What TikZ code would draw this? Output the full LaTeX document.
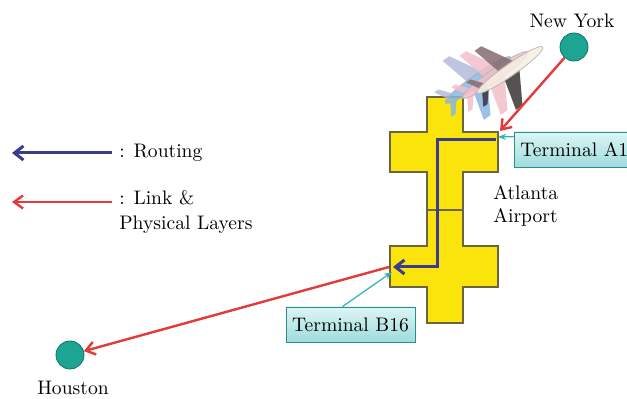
\documentclass[tikz,border=0pt]{standalone}
\usetikzlibrary{arrows.meta}
\definecolor{hubyellow}{HTML}{FBE40C}
\definecolor{hubedge}{HTML}{6B6440}
\definecolor{routeblue}{HTML}{3C3C8E}
\definecolor{linkred}{HTML}{E53A3A}
\definecolor{cityteal}{HTML}{1BA592}
\definecolor{gatecyan}{HTML}{2FB3B3}
\definecolor{gatetop}{HTML}{DDF5F5}
\definecolor{gatebot}{HTML}{9FDCDC}
\definecolor{planeblue}{HTML}{8AB6E6}
\definecolor{planepink}{HTML}{F2BFC8}
\definecolor{planebody}{HTML}{F6EEE2}
\definecolor{planedark}{HTML}{3A3434}
\tikzset{
	hub/.style={fill=hubyellow, draw=hubedge, line width=0.6pt},
	routing/.style={routeblue, line width=1.5pt, -{Straight Barb[length=4.5pt,width=7pt]}},
	link/.style={linkred, line width=1.2pt, -{Straight Barb[length=4.5pt,width=6.5pt]}},
	city/.style={circle, fill=cityteal, draw=cityteal!70!black, minimum size=14pt, inner sep=0pt},
	gatebox/.style={draw=gatecyan!80!black, top color=gatetop, bottom color=gatebot, inner xsep=3pt, minimum height=17.5pt},
	pointer/.style={gatecyan, line width=0.6pt, -{Stealth[length=4pt]}},
	txt/.style={inner sep=0pt}
}
\begin{document}
\begin{tikzpicture}[x=0.5pt, y=-0.5pt, font=\fontsize{9.8}{11.5}\selectfont]
	\path[use as bounding box, fill=white] (0,0) rectangle (627,399);
	% airport: two crosses on one spine
	\def\xbarl{427}
	\def\xbarr{463}
	\def\xarml{390}
	\def\xarmr{498}
	\draw[hub] (\xbarl,97) -- (\xbarr,97) -- (\xbarr,132) -- (\xarmr,132) -- (\xarmr,172) -- (\xbarr,172)
		-- (\xbarr,246) -- (\xarmr,246) -- (\xarmr,287) -- (\xbarr,287) -- (\xbarr,323) -- (\xbarl,323)
		-- (\xbarl,287) -- (\xarml,287) -- (\xarml,246) -- (\xbarl,246) -- (\xbarl,172) -- (\xarml,172)
		-- (\xarml,132) -- (\xbarl,132) -- cycle;
	\draw[hubedge, line width=0.6pt] (\xbarl,210) -- (\xbarr,210);
	% planes
	\foreach \dx/\dy/\body/\wing in {-32/10/planeblue/planeblue, -15/5/planepink/planepink, 0/0/planebody/planedark}{
		\begin{scope}[shift={(510+\dx,70+\dy)}, rotate=35, opacity=0.85]
			\fill[\wing] (8,5) -- (-10,36) -- (-18,36) -- (-10,5) -- cycle;
			\fill[\wing!60!planepink] (8,-5) -- (-10,-36) -- (-18,-36) -- (-10,-5) -- cycle;
			\fill[\wing] (-28,3) -- (-38,15) -- (-43,15) -- (-36,3) -- cycle;
			\fill[\wing!60!planepink] (-28,-3) -- (-38,-15) -- (-43,-15) -- (-36,-3) -- cycle;
			\fill[\body, draw=gray!60] (0,0) ellipse [x radius=40, y radius=6];
		\end{scope}
	}
	% cities
	\node[city] (ny) at (574,47) {};
	\node[txt, anchor=base] (nytxt) at (572,28) {New York};
	\node[city] (hou) at (70,355) {};
	\node[txt, anchor=base] (houtxt) at (73,395) {Houston};
	\node[txt, anchor=base west] (atl) at (493,200) {Atlanta};
	\node[txt, anchor=base west] (atlport) at (493,223) {Airport};
	% terminals
	\node[gatebox, anchor=west] (a1) at (514,149.5) {Terminal A1};
	\node[gatebox, minimum width=63.5pt] (b16) at (350.5,324.5) {Terminal B16};
	\coordinate (a1in) at (496,140);
	\coordinate (spine) at (437,200);
	\coordinate (b16in) at (393,267);
	\coordinate (a1gate) at (498,137);
	\coordinate (a1land) at (500,131);
	\coordinate (b16gate) at (392,272);
	\coordinate (b16out) at (389,267);
	\draw[routing] (a1in) -| (spine) |- (b16in);
	\draw[link] (ny) -- (a1land);
	\draw[link] (b16out) -- (hou);
	\draw[pointer] ([yshift=-2.5pt]a1.north west) -- (a1gate);
	\draw[pointer] ([xshift=-4pt]b16.north) -- (b16gate);
	% legend
	\node[txt, anchor=base west] (routetxt) at (119,158) {: Routing};
	\node[txt, anchor=base west] (linktxt) at (119,205) {: Link \&};
	\node[txt, anchor=base west] (layertxt) at (119,230) {Physical Layers};
	\coordinate (routetail) at (112,153);
	\coordinate (routetip) at (12,153);
	\coordinate (linktail) at (112,202);
	\coordinate (linktip) at (12,202);
	\draw[routing] (routetail) -- (routetip);
	\draw[link] (linktail) -- (linktip);
\end{tikzpicture}
\end{document}
